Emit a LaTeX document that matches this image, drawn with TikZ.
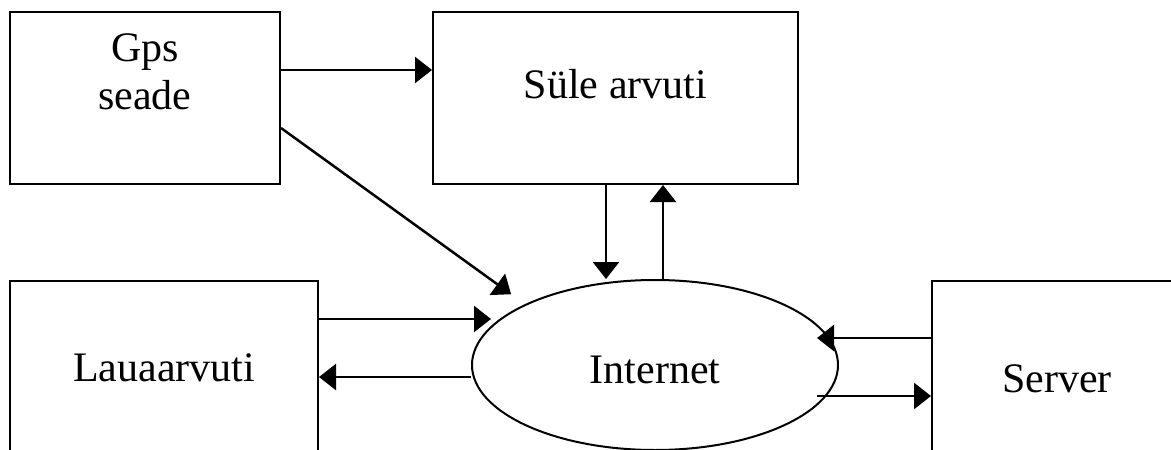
\documentclass[tikz,border=0pt]{standalone}
\usepackage{fontspec}
\setmainfont{Liberation Serif}
\usetikzlibrary{arrows.meta,shapes.geometric}
\tikzset{
	seade/.style={draw, line width=2pt, rectangle, inner sep=0pt},
	pilv/.style={draw, line width=2pt, ellipse, inner sep=0pt, minimum width=366pt, minimum height=170pt},
	nool/.style={line width=2.5pt, -{Triangle[length=17pt,width=26pt]}}
}

\begin{document}
\begin{tikzpicture}[x=1pt, y=-1pt, font=\fontsize{42}{48}\selectfont]
			%%%%% START %%%%%
			
			\useasboundingbox (0,0) rectangle (1171,450);
			\clip (0,0) rectangle (1171,450);
			
			\node[seade, minimum width=270pt, minimum height=172pt, label={[align=center, yshift=26pt]center:Gps\\seade}] (gps) at (145,98) {};
			\node[seade, minimum width=365pt, minimum height=172pt, label={[yshift=14pt]center:Süle arvuti}] (sule) at (615.5,98) {};
			\node[seade, minimum width=308pt, minimum height=174pt, label={center:Lauaarvuti}] (laua) at (164,368) {};
			\node[seade, minimum width=250pt, minimum height=172pt, label={[yshift=-12pt]center:Server}] (server) at (1057,367) {};
			\node[pilv, label={[yshift=-5pt]center:Internet}] (internet) at (655,365) {};
			
			\draw[nool] ([yshift=28pt]gps.east) -- ([yshift=28pt]gps.east -| sule.west);
			\draw[nool, shorten >=17pt] ([yshift=-30pt]gps.east) -- (internet.north west);
			
			\draw[nool] ([xshift=-9.5pt]sule.south) -- ([xshift=-9.5pt]sule.south |- internet.north);
			\draw[nool] ([xshift=8pt]internet.north) -- ([xshift=8pt]internet.north |- sule.south);
			
			\draw[nool] ([yshift=49pt]laua.east) -- ++(172,0);
			\draw[nool] ([yshift=-12pt]internet.west) -- ([yshift=-12pt]internet.west -| laua.east);
			
			\draw[nool] ([yshift=29pt]server.west) -- ++(-114,0);
			\draw[nool] ([shift={(-114pt,-29pt)}]server.west) -- ([yshift=-29pt]server.west);
			
			%%%%% END %%%%%
\end{tikzpicture}
\end{document}
